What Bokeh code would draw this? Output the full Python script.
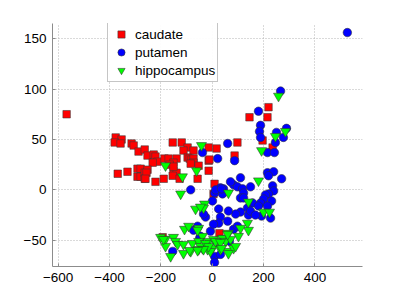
from bokeh.plotting import figure
from bokeh.models import Range1d, FixedTicker, Legend, LegendItem
from bokeh.embed import file_html
from bokeh.resources import INLINE

# caudate (red squares)
caudate_x = [-567, -376, -353, -380, -357, -314, -306, -287, -263, -368, -330, -291, -279, -291,
             -279, -263, -263, -252, -228, -221, -213, -232, -186, -170, -154, -119, -96, -112,
             -73, -139, -151, -166, -96, -88, -81, -73, -73, -84, -53, -14, 17, -14, -14, -252,
             -256, -260, -221, -189, -151, -139, -154, -127, -57, -151, 219, 145, 215, 98, 87,
             196, 235, -11, 9, 5, 28, -193]
caudate_y = [75, 52, 50, 47, 46, 46, 44, 38, 40, 16, 18, 21, 21, 13, 13, 17, 11, 34, 35, 33, 28,
             27, 31, 31, 47, 47, 42, 39, 39, 31, 27, 25, 32, 31, 30, 31, 27, 26, 24, 42, 41, 29,
             19, 20, 17, 11, 8, 11, 19, 17, 14, 11, 11, 23, 82, 72, 72, 47, 34, 49, 42, 30, 6,
             -4, -43, -47]

# putamen (blue circles)
putamen_x = [526, 266, 180, 188, 184, 188, 250, 289, 277, 246, 60, 215, 242, 87, 21, -38, 215,
             239, 270, 219, 110, 149, 83, 98, 118, 122, 71, 44, 32, 40, 9, 1, 110, 122, 235, 239,
             219, 207, 200, 231, 157, 188, 180, 215, 25, 32, 60, 25, 137, 110, 141, 149, 192,
             227, 91, 63, -26, -34, 83, 98, -7, 5, 168, -84, -73, -57, -154, -49, 67, 9, 32, 9,
             13, 36, -46]
putamen_y = [156, 98, 78, 64, 58, 52, 57, 61, 52, 47, 46, 37, 37, 29, 31, 37, 17, 18, 11, 14,
             12, 3, 5, 3, 1, -3, 8, 1, 2, -4, -3, -11, -8, -8, 4, -1, -4, -5, -9, -11, -13, -13,
             -16, -16, -19, -27, -31, -33, -18, -22, -25, -21, -26, -28, -24, -21, -27, -24, -39,
             -36, -41, -34, -25, 0, -40, -36, -61, -48, -51, -66, -64, -72, 0, 1, -46]

# hippocampus (green inverted triangles)
hippo_x = [258, 246, 285, 192, -42, 180, 63, 141, 200, 223, -30, -34, 137, 141, 110, 102, 63, 44,
           -38, -14, 5, 25, 40, 52, 71, -38, -18, 1, 32, 63, 83, 91, 63, -7, -123, -65, -46,
           -108, -92, -53, -201, -182, -151, -143, -135, -112, -77, -182, -53, -46, -26, -14, 13,
           32, 60, -112, -84, -53, 36, -162, -34, -182, -116, -61, -57, -190, -88, -57]
hippo_y = [93, 53, 58, 39, 44, 9, -3, -12, -22, -22, -14, -18, -33, -40, -38, -46, -43, -48, -46,
           -51, -49, -51, -48, -51, -49, -58, -59, -58, -59, -61, -58, -56, -63, -61, -4, -19, -17,
           -39, -36, -38, -47, -49, -47, -51, -54, -54, -53, -56, -51, -56, -53, -56, -51, -52,
           -44, -63, -61, -59, -58, -66, -59, 24, 13, 19, -40, -49, -60, -60]

x_ticks = [-600, -400, -200, 0, 200, 400]
y_ticks = [-50, 0, 50, 100, 150]
labels = ["caudate", "putamen", "hippocampus"]

FONT = "Liberation Sans"

p = figure(width=399, height=299, output_backend="svg", toolbar_location=None,
           x_range=Range1d(-622, 585), y_range=Range1d(-76, 165),
           min_border_left=52, min_border_right=37, min_border_top=23, min_border_bottom=33)
p.outline_line_color = None
p.background_fill_color = "white"
p.border_fill_color = "white"

for ax in (p.xaxis[0], p.yaxis[0]):
    ax.axis_line_color = "#8c8c8c"
    ax.major_tick_line_color = "#8c8c8c"
    ax.major_tick_in = 3
    ax.major_tick_out = 0
    ax.minor_tick_line_color = None
    ax.major_label_text_font = FONT
    ax.major_label_text_font_size = "13.5px"
    ax.major_label_text_color = "black"
p.xaxis.ticker = FixedTicker(ticks=x_ticks)
p.yaxis.ticker = FixedTicker(ticks=y_ticks)
p.xaxis.major_label_standoff = 6
p.yaxis.major_label_standoff = 6

for g in (p.xgrid[0], p.ygrid[0]):
    g.grid_line_color = "#b4b4b4"
    g.grid_line_dash = "1 2"
    g.grid_line_width = 1
p.xgrid.ticker = FixedTicker(ticks=x_ticks)
p.ygrid.ticker = FixedTicker(ticks=y_ticks)

r1 = p.scatter(caudate_x, caudate_y, marker="square", size=7.5, fill_color="#ff0000",
               line_color="#3a3a3a", line_alpha=0.7, line_width=0.8)
r2 = p.scatter(putamen_x, putamen_y, marker="circle", size=8.5, fill_color="#0000ff",
               line_color="#303030", line_alpha=0.7, line_width=0.8)
r3 = p.scatter(hippo_x, hippo_y, marker="inverted_triangle", size=10, fill_color="#00ff00",
               line_color="#303030", line_alpha=0.7, line_width=0.8)

legend = Legend(items=[LegendItem(label=labels[0], renderers=[r1]),
                       LegendItem(label=labels[1], renderers=[r2]),
                       LegendItem(label=labels[2], renderers=[r3])],
                location=(55, 184))
legend.label_text_font = FONT
legend.label_text_font_size = "13.5px"
legend.label_text_color = "black"
legend.border_line_color = "#8c8c8c"
legend.border_line_width = 1
legend.background_fill_color = "white"
legend.glyph_width = 22
legend.glyph_height = 18
legend.label_height = 18
legend.label_standoff = 3
legend.spacing = 0
legend.padding = 2
legend.margin = 0
p.add_layout(legend, "center")

open("out.html", "w").write(file_html(p, INLINE))
